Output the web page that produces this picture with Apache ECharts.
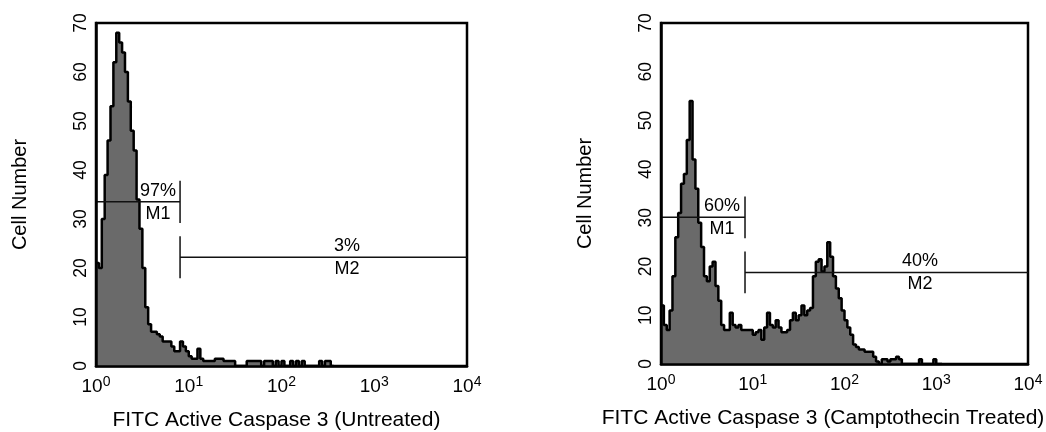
<!DOCTYPE html>
<html>
<head>
<meta charset="utf-8">
<script src="https://cdn.jsdelivr.net/npm/echarts@6/dist/echarts.min.js"></script>
<style>
html, body { margin: 0; padding: 0; background: #fff; }
#main { width: 1046px; height: 432px; }
</style>
</head>
<body>
<div id="main"></div>
<script>
// histogram channels: 32 per decade, 4 decades (10^0 .. 10^4)
var chPerDecade = 32;
var chTotal = 128;

// cell counts per channel, untreated
var untreatedCounts = [
	21, 20, 30, 39, 46, 53, 62, 68, 66, 64, 60, 54, 48, 44, 34, 28,
	20, 12, 8.5, 7, 7, 6.5, 6, 5, 5, 5, 4, 3, 3, 5, 4, 3,
	2, 1.5, 1.5, 3.5, 1.5, 1, 1, 1, 1, 1.5, 1.5, 1.5, 1, 1, 1, 1,
	0, 0, 0, 0, 1, 1, 1, 1, 1, 0, 1, 1, 1, 0, 1, 0,
	1, 0, 0, 1, 0, 1, 0, 1, 0, 0, 0, 0, 0, 1, 0, 1,
	1, 0
];

// cell counts per channel, camptothecin treated
var treatedCounts = [
	12, 8, 7, 11, 18, 26, 31, 37, 39, 46, 54, 42, 36, 29, 24, 18,
	17, 20, 21, 16, 13, 8, 7, 7, 10.5, 8, 7.5, 8, 7, 7, 7, 7,
	6, 6.5, 7, 5, 7.5, 10.5, 8, 7.5, 9, 7.5, 6.5, 6.5, 7, 9, 10.5, 9,
	10, 12, 10, 11, 11.5, 18, 21, 21.5, 19, 20, 25, 22, 18, 15.5, 13.5, 11,
	9, 7.5, 6, 4, 3.5, 3, 3, 2.5, 2.5, 2.5, 1.5, 0.5, 0, 1, 1, 0.5,
	1, 1, 1.5, 1, 0, 0, 0, 0, 0, 0, 1, 0, 0, 0, 0, 1,
	0, 0
];

// gates M1 / M2 (channel from, channel to, level, label channel)
var gateNames = ['M1', 'M2'];
var untreatedPct = ['97%', '3%'];
var untreatedFrom = [0, 29];
var untreatedTo = [29, 128];
var untreatedLevel = [33.5, 22.2];
var untreatedLabelAt = [21.4, 86.6];

var treatedPct = ['60%', '40%'];
var treatedFrom = [0, 29.3];
var treatedTo = [29.3, 128];
var treatedLevel = [30.1, 18.8];
var treatedLabelAt = [21.3, 90.3];

// the tick on each gate sits at its inner end
var tickHalf = 4.3;
var textColor = '#000';
var font = 'Liberation Sans';

var chart = echarts.init(document.getElementById('main'));

function stepData(counts) {
	var d = [];
	for (var i = 0; i < counts.length; i++) {
		d.push([i, counts[i]]);
	}
	d.push([counts.length, 0]);
	return d;
}

function makeX(idx, title, shift) {
	return {
		gridIndex: idx,
		type: 'value',
		min: 0,
		max: chTotal,
		interval: chPerDecade,
		z: 10,
		name: title,
		nameLocation: 'middle',
		nameGap: 44,
		nameTextStyle: { fontSize: 21, color: textColor, fontFamily: font, padding: [0, shift, 0, 0] },
		axisLine: { show: true, lineStyle: { color: '#000', width: 2.5 } },
		axisTick: { show: false },
		splitLine: { show: false },
		axisLabel: {
			margin: 9,
			formatter: function (v) {
				return '{b|10}{s|' + (v / chPerDecade) + '}';
			},
			rich: {
				b: { fontSize: 19, color: textColor, fontFamily: font },
				s: { fontSize: 14, color: textColor, fontFamily: font, padding: [0, 0, 9, 0] }
			}
		}
	};
}

function makeY(idx, gap) {
	return {
		gridIndex: idx,
		type: 'value',
		min: 0,
		max: 70,
		interval: 10,
		z: 10,
		name: 'Cell Number',
		nameLocation: 'middle',
		nameGap: gap,
		nameRotate: 90,
		nameTextStyle: { fontSize: 20, color: textColor, fontFamily: font },
		axisLine: { show: true, lineStyle: { color: '#000', width: 2.5 } },
		axisTick: { show: false },
		splitLine: { show: false },
		axisLabel: { rotate: 90, margin: 6, fontSize: 17.5, color: textColor, fontFamily: font }
	};
}

function gateLabel(pos, dist, text) {
	return {
		show: true, position: pos, distance: dist, formatter: text,
		fontSize: 18, color: textColor, fontFamily: font
	};
}

function gateSeries(idx, from, to, level, pct, labelAt) {
	var out = [];
	for (var g = 0; g < gateNames.length; g++) {
		var inner = g == 0 ? to[g] : from[g];
		out.push({
			type: 'line', xAxisIndex: idx, yAxisIndex: idx, z: 5,
			showSymbol: false, silent: true,
			lineStyle: { color: '#111', width: 1.5 },
			data: [[from[g], level[g]], [to[g], level[g]]]
		});
		out.push({
			type: 'line', xAxisIndex: idx, yAxisIndex: idx, z: 5,
			showSymbol: false, silent: true,
			lineStyle: { color: '#111', width: 1.5 },
			data: [[inner, level[g] - tickHalf], [inner, level[g] + tickHalf]]
		});
		out.push({
			type: 'scatter', xAxisIndex: idx, yAxisIndex: idx, z: 6,
			symbolSize: 0, silent: true,
			itemStyle: { opacity: 1 },
			data: [
				{ value: [labelAt[g], level[g]], label: gateLabel('top', 2, pct[g]) },
				{ value: [labelAt[g], level[g]], label: gateLabel('bottom', 3, gateNames[g]) }
			]
		});
	}
	return out;
}

function histSeries(idx, counts) {
	return {
		type: 'line', xAxisIndex: idx, yAxisIndex: idx, z: 2,
		step: 'end', showSymbol: false, silent: true,
		lineStyle: { color: '#000', width: 2.5 },
		areaStyle: { color: '#6a6a6a', opacity: 1 },
		data: stepData(counts)
	};
}

var option = {
	animation: false,
	backgroundColor: '#fff',
	grid: [
		{ left: 96, top: 23, width: 371, height: 343, outerBoundsMode: 'none', containLabel: false, show: true, borderColor: '#000', borderWidth: 2.5, backgroundColor: 'transparent' },
		{ left: 661, top: 23, width: 367, height: 341, outerBoundsMode: 'none', containLabel: false, show: true, borderColor: '#000', borderWidth: 2.5, backgroundColor: 'transparent' }
	],
	xAxis: [
		makeX(0, 'FITC Active Caspase 3 (Untreated)', 10),
		makeX(1, 'FITC Active Caspase 3 (Camptothecin Treated)', 43)
	],
	yAxis: [makeY(0, 66), makeY(1, 66)],
	series: [histSeries(0, untreatedCounts), histSeries(1, treatedCounts)]
		.concat(gateSeries(0, untreatedFrom, untreatedTo, untreatedLevel, untreatedPct, untreatedLabelAt))
		.concat(gateSeries(1, treatedFrom, treatedTo, treatedLevel, treatedPct, treatedLabelAt))
};

chart.setOption(option);
</script>
</body>
</html>
